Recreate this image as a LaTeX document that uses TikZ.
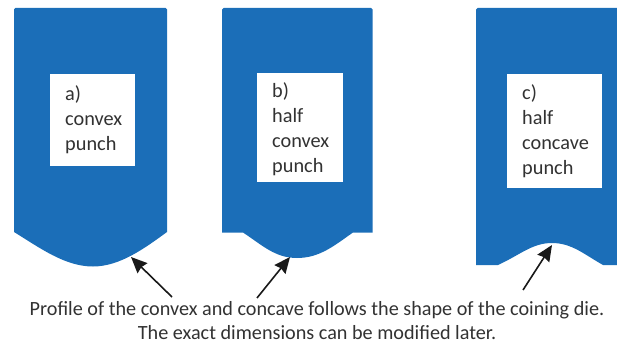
\documentclass[tikz,border=0pt]{standalone}
\usepackage{fontspec}
\setmainfont{Carlito}
\usetikzlibrary{positioning, arrows.meta}
\definecolor{punchblue}{RGB}{27,110,184}
\definecolor{labelgray}{RGB}{50,50,50}
\tikzset{
    punch/.style = {fill=punchblue},
    punch label/.style = {fill=white, anchor=north west, align=left, text=labelgray,
        inner xsep=15pt, inner ysep=0pt, font=\fontsize{20.3}{25}\selectfont},
    profile arrow/.style = {draw=black!90, line width=1.6pt, -{Stealth[length=16pt, width=14pt, inset=1.5pt]}},
    caption/.style = {align=center, text=labelgray, inner sep=0pt, font=\fontsize{20.2}{24}\selectfont},
}
\begin{document}
\begin{tikzpicture}[x=1pt, y=-1pt]
            \useasboundingbox (0,0) rectangle (617,347);

            \fill[punch] (14,232) [rounded corners=1.5pt] -- (14,8) -- (167,8) [sharp corners] -- (167,232)
                .. controls (145,248) and (120,266.5) .. (93,266.5)
                .. controls (65,266.5) and (40,248) .. (14,232) -- cycle;
            \fill[punch] (222,232.5) [rounded corners=1.5pt] -- (222,8) -- (372.5,8) [sharp corners] -- (372.5,232.5) -- (353,232.5)
                .. controls (335,245) and (320,258) .. (297,258)
                .. controls (275,258) and (262,245) .. (243,232.5) -- cycle;
            \fill[punch] (476,265) [rounded corners=1.5pt] -- (476,8) -- (625,8) [sharp corners] -- (625,265) -- (603,265)
                .. controls (585,255) and (572,243) .. (552,243)
                .. controls (532,243) and (520,255) .. (498,265) -- cycle;

            \node (a) [punch label, text width=55pt, minimum height=92pt] at (50,74) {a)\\convex\\punch};
            \node (b) [punch label, text width=55.5pt, minimum height=109pt] at (257,73) {\rule{0pt}{18pt}b)\\half\\convex\\punch};
            \node (c) [punch label, text width=65pt, minimum height=114pt] at (507,74) {c)\\half\\concave\\punch};

            \node (caption) [caption] at (317,321) {Profile of the convex and concave follows the shape of the coining die.\\The exact dimensions can be modified later.};

            \coordinate (a tail) at (172,297);
            \coordinate (a tip) at (131,257);
            \coordinate (b tail) at (257,298);
            \coordinate (b tip) at (290,257);
            \coordinate (c tail) at (523,290);
            \coordinate (c tip) at (552,245);

            \draw[profile arrow] (a tail) -- (a tip);
            \draw[profile arrow] (b tail) -- (b tip);
            \draw[profile arrow] (c tail) -- (c tip);
        \end{tikzpicture}
\end{document}
